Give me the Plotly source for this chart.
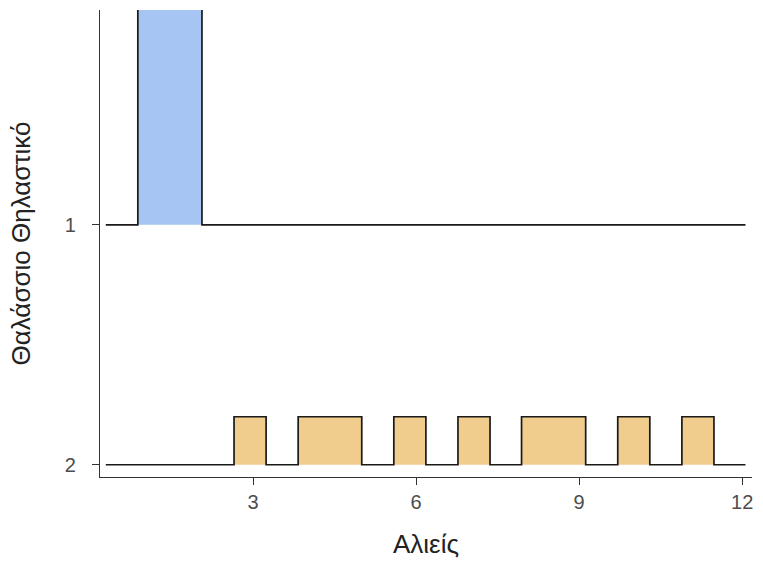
import plotly.graph_objects as go

# ---- data ----
categories = ["1", "2"]            # ridge labels (top to bottom)
category_pos = [1, 0]              # baseline of each ridge on the y scale
bin_edges = [0.29, 0.88, 1.47, 2.06, 2.65, 3.24, 3.83, 4.41, 5.00, 5.59, 6.18,
             6.77, 7.36, 7.94, 8.53, 9.12, 9.71, 10.30, 10.89, 11.48, 12.06]
heights_1 = [0, 0.9, 0.9, 0, 0, 0, 0, 0, 0, 0,
             0, 0, 0, 0, 0, 0, 0, 0, 0, 0]
heights_2 = [0, 0, 0, 0, 0.2, 0, 0.2, 0.2, 0, 0.2,
             0, 0.2, 0, 0.2, 0.2, 0, 0.2, 0, 0.2, 0]
fill_colors = ["#A6C5F2", "#F0CD8D"]
x_ticks = [3, 6, 9, 12]

series = [heights_1, heights_2]

fig = go.Figure()
for cat, base, h, col in zip(categories, category_pos, series, fill_colors):
    xs, ys = [], []
    for i, v in enumerate(h):
        xs += [bin_edges[i], bin_edges[i + 1]]
        ys += [base + v, base + v]
    # fill polygon (no outline)
    fig.add_trace(go.Scatter(
        x=xs + [bin_edges[-1], bin_edges[0]],
        y=ys + [base, base],
        fill="toself", fillcolor=col, mode="lines",
        line=dict(width=0, color=col), hoverinfo="skip", showlegend=False))
    # step outline
    fig.add_trace(go.Scatter(
        x=xs, y=ys, mode="lines",
        line=dict(color="#1a1a1a", width=1.7),
        name=cat, showlegend=False))

font_family = "Liberation Sans, Arial, sans-serif"
fig.update_layout(
    width=763, height=563,
    margin=dict(l=100, r=10, t=10, b=84),
    plot_bgcolor="white", paper_bgcolor="white",
    font=dict(family=font_family),
    xaxis=dict(
        range=[0.184, 12.18], tickmode="array", tickvals=x_ticks,
        ticktext=[str(t) for t in x_ticks],
        showgrid=False, zeroline=False, showline=True, linecolor="#333333", linewidth=1.3,
        ticks="outside", ticklen=7, tickcolor="#333333", tickwidth=1.3,
        tickfont=dict(size=20, color="#4D4D4D"),
        title=dict(text="Αλιείς", font=dict(size=26, color="#222222"), standoff=22),
    ),
    yaxis=dict(
        range=[-0.051, 1.895], tickmode="array", tickvals=category_pos, ticktext=categories,
        showgrid=False, zeroline=False, showline=True, linecolor="#333333", linewidth=1.3,
        ticks="outside", ticklen=7, tickcolor="#333333", tickwidth=1.3,
        tickfont=dict(size=20, color="#4D4D4D"), ticklabelstandoff=12,
        title=dict(text="Θαλάσσιο Θηλαστικό", font=dict(size=26, color="#222222"), standoff=26),
    ),
)

fig.write_html("out.html", config={"displayModeBar": False},
               post_script="document.body.style.margin='0px';")
